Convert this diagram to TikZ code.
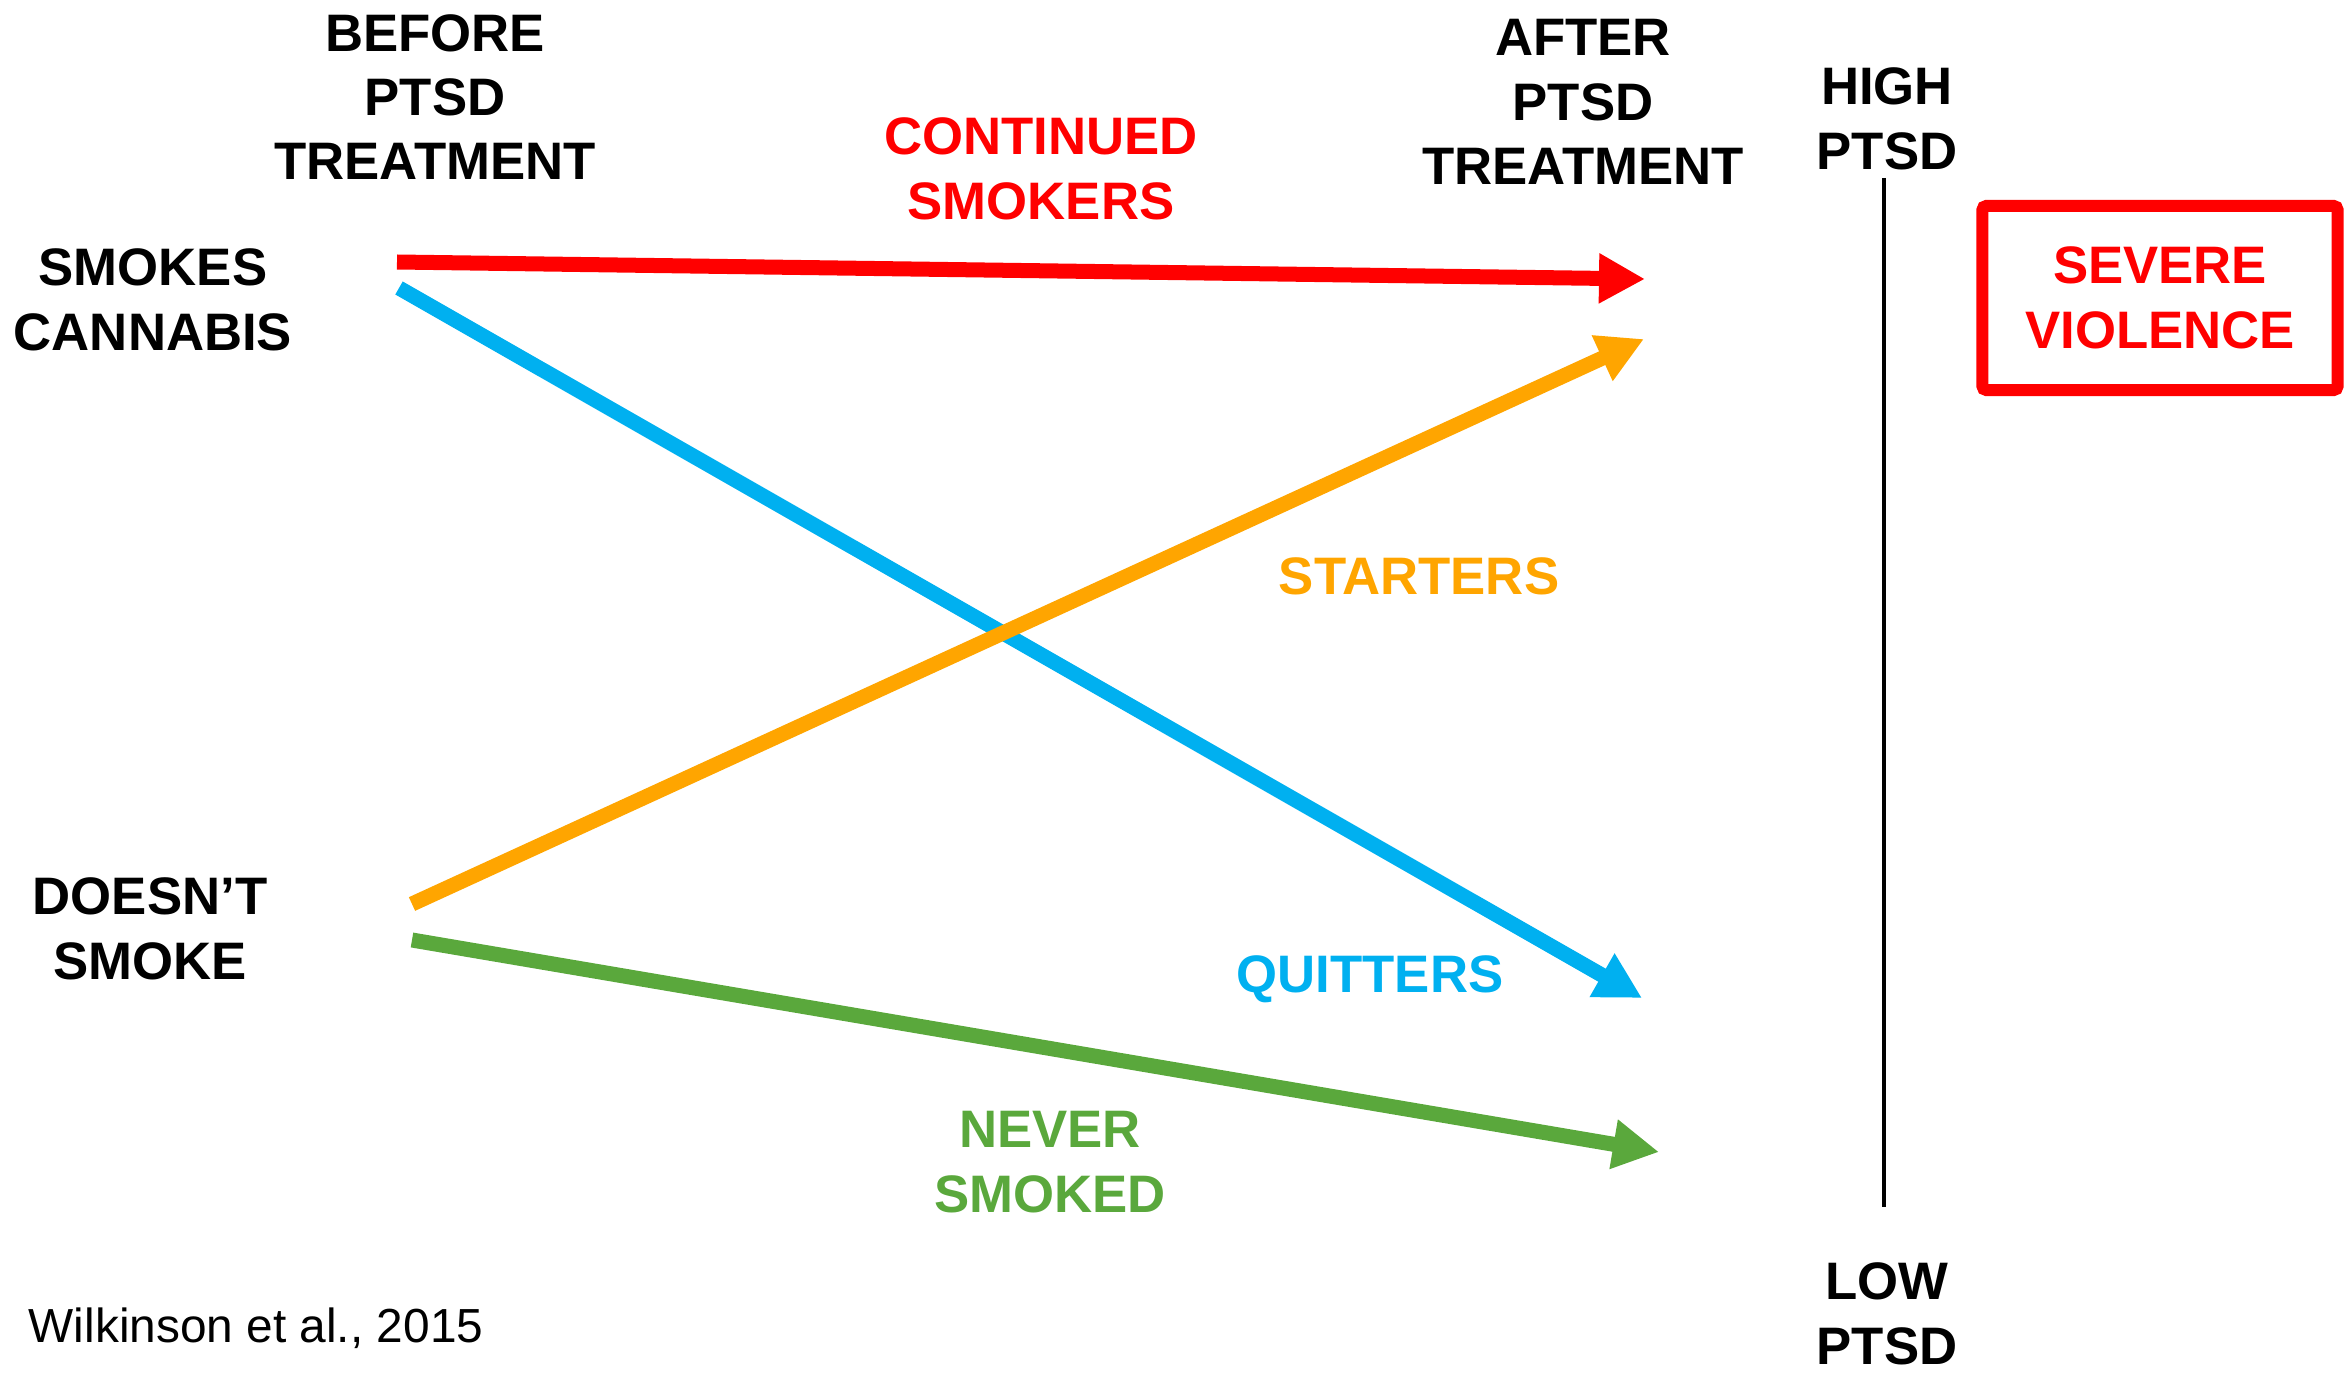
\documentclass[tikz,border=0pt]{standalone}
\usepackage{fontspec}
\setmainfont{Liberation Sans}
\usetikzlibrary{arrows.meta}
\definecolor{cred}{RGB}{255,0,0}
\definecolor{cblue}{RGB}{0,176,240}
\definecolor{corange}{RGB}{255,165,0}
\definecolor{cgreen}{RGB}{90,168,60}
\begin{document}
\begin{tikzpicture}[x=0.01cm,y=-0.01cm,
  lbl/.style={inner sep=0pt,align=center,font=\fontsize{15pt}{18.3pt}\selectfont\bfseries},
  arr/.style={line width=0.15cm,-{Triangle[length=0.46cm,width=0.47cm]}}]
\useasboundingbox (0,0) rectangle (2351,1373);
% headings
\node[lbl] (before) at (435,97) {BEFORE\\PTSD\\TREATMENT};
\node[lbl] (after) at (1583,102) {AFTER\\PTSD\\TREATMENT};
\node[lbl] (high) at (1887,119) {HIGH\\PTSD};
\node[lbl] (low) at (1887,1314) {LOW\\PTSD};
\node[lbl] (smokes) at (153,300) {SMOKES\\CANNABIS};
\node[lbl] (doesnt) at (150,929) {DOESN’T\\SMOKE};
% group labels
\node[lbl,text=cred] (cont) at (1041,169) {CONTINUED\\SMOKERS};
\node[lbl,text=corange] (start) at (1419,576) {STARTERS};
\node[lbl,text=cblue] (quit) at (1370,979) {QUITTERS};
\node[lbl,text=cgreen] (never) at (1050,1162) {NEVER\\SMOKED};
% severe violence box
\node[lbl,text=cred,draw=cred,line width=0.12cm,rounded corners=0.04cm,
  minimum width=3.55cm,minimum height=1.84cm] (sev) at (2160,298) {SEVERE\\VIOLENCE};
% scale line
\coordinate (ltop) at (1884,178);
\coordinate (lbot) at (1884,1207);
\draw[line width=0.045cm] (ltop) -- (lbot);
% arrow endpoints
\coordinate (rs) at (397,262);
\coordinate (re) at (1645,279);
\coordinate (bs) at (399,288);
\coordinate (be) at (1642,998);
\coordinate (os) at (412,904);
\coordinate (oe) at (1644,339);
\coordinate (gs) at (412,940);
\coordinate (ge) at (1659,1152);
\draw[arr,cred] (rs) -- (re);
\draw[arr,cblue] (bs) -- (be);
\draw[arr,corange] (os) -- (oe);
\draw[arr,cgreen] (gs) -- (ge);
% citation
\node[inner sep=0pt,anchor=base west,font=\fontsize{13.6pt}{16pt}\selectfont] (cite) at (28,1342) {Wilkinson et al., 2015};
\end{tikzpicture}
\end{document}
